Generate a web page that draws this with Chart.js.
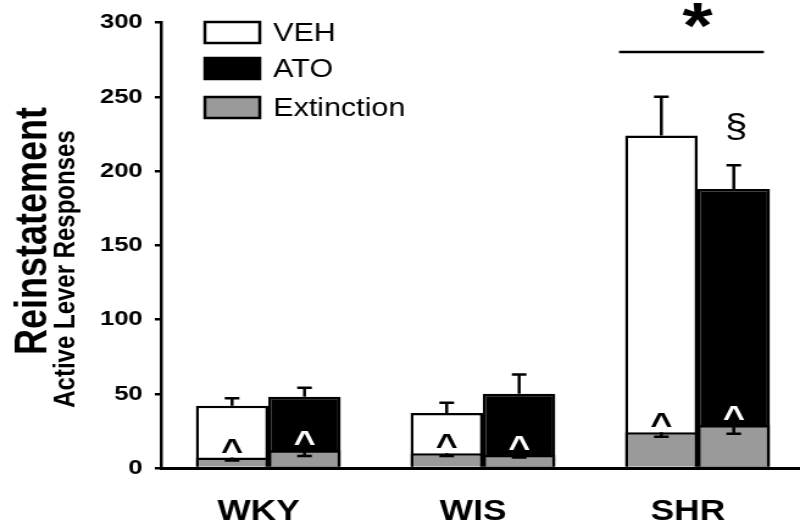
<!DOCTYPE html>
<html>
<head>
<meta charset="utf-8">
<script src="https://cdn.jsdelivr.net/npm/chart.js@4.4.1/dist/chart.umd.min.js"></script>
<style>
    body { margin: 0; background: #fff; overflow: hidden; }
    /* the source figure is stretched sideways, so draw narrow and widen */
    #wrap { width: 662px; height: 522px; transform: scaleX(1.2195); transform-origin: 0 0; }
</style>
</head>
<body>
<div id="wrap"><canvas id="reinstChart"></canvas></div>
<script>
var categories = ["WKY", "WIS", "SHR"];
var vehValues = [42, 37, 224];
var vehErrors = [5, 7, 26];
var atoValues = [48, 50, 188];
var atoErrors = [6, 13, 16];
var extVehValues = [7, 10, 24];
var extVehErrors = [2, 2, 3];
var extAtoValues = [12, 9, 29];
var extAtoErrors = [4, 2, 6];
var yTicks = [0, 50, 100, 150, 200, 250, 300];
var legendLabels = ["VEH", "ATO", "Extinction"];
var titleLines = ["Reinstatement", "Active Lever Responses"];

var FONT = "'Liberation Sans', Arial, sans-serif";
var GRAY = "#9a9a9a";

// error bars: main bars point up, extinction bars point down
var errorBars = {
    id: "errorBars",
    afterDatasetsDraw: function(chart) {
        var ctx = chart.ctx;
        var y = chart.scales.y;
        ctx.save();
        ctx.strokeStyle = "#000";
        ctx.lineWidth = 2.5;
        chart.data.datasets.forEach(function(ds, di) {
            var meta = chart.getDatasetMeta(di);
            meta.data.forEach(function(bar, i) {
                var v = ds.data[i];
                var end = y.getPixelForValue(v + ds.errDir * ds.errors[i]);
                ctx.beginPath();
                ctx.moveTo(bar.x, bar.y);
                ctx.lineTo(bar.x, end);
                ctx.moveTo(bar.x - 6, end);
                ctx.lineTo(bar.x + 6, end);
                ctx.stroke();
            });
        });
        ctx.restore();
    }
};

var marks = {
    id: "marks",
    afterDraw: function(chart) {
        var ctx = chart.ctx;
        ctx.save();

        // ^ above each extinction bar
        ctx.font = "bold 31px " + FONT;
        ctx.textAlign = "center";
        ctx.textBaseline = "alphabetic";
        [2, 3].forEach(function(di) {
            chart.getDatasetMeta(di).data.forEach(function(bar) {
                ctx.fillStyle = di == 3 ? "#fff" : "#000";
                ctx.fillText("^", bar.x, bar.y + 3);
            });
        });

        // significance over SHR
        var vehShr = chart.getDatasetMeta(0).data[2];
        var atoShr = chart.getDatasetMeta(1).data[2];
        var left = vehShr.x - vehShr.width / 2 - 5;
        var right = atoShr.x + atoShr.width / 2 - 5;
        ctx.strokeStyle = "#000";
        ctx.lineWidth = 2.5;
        ctx.beginPath();
        ctx.moveTo(left, 52);
        ctx.lineTo(right, 52);
        ctx.stroke();
        ctx.fillStyle = "#000";
        ctx.font = "bold 64px " + FONT;
        ctx.fillText("*", (vehShr.x + atoShr.x) / 2, 48);

        ctx.font = "33px " + FONT;
        ctx.fillText("\u00a7", atoShr.x + 2, 137);

        // legend inside the plot
        var fills = ["#fff", "#000", GRAY];
        var tops = [22, 58, 97];
        ctx.lineWidth = 2.5;
        ctx.textAlign = "left";
        ctx.textBaseline = "middle";
        ctx.font = "25px " + FONT;
        for (var i = 0; i < legendLabels.length; i++) {
            ctx.fillStyle = fills[i];
            ctx.fillRect(168, tops[i], 45, 21);
            ctx.strokeRect(168, tops[i], 45, 21);
            ctx.fillStyle = "#000";
            ctx.fillText(legendLabels[i], 224, tops[i] + 12);
        }

        // two-line y title, first line set larger
        ctx.textAlign = "center";
        ctx.textBaseline = "alphabetic";
        var lines = [
            { x: 37.7, y: 231, size: 36 },
            { x: 60.5, y: 269, size: 24 }
        ];
        lines.forEach(function(l, i) {
            ctx.save();
            ctx.font = "bold " + l.size + "px " + FONT;
            ctx.translate(l.x, l.y);
            ctx.rotate(-Math.PI / 2);
            ctx.fillText(titleLines[i], 0, 0);
            ctx.restore();
        });
        ctx.restore();
    }
};

var ctx = document.getElementById("reinstChart").getContext("2d");
var reinstChart = new Chart(ctx, {
    type: "bar",
    data: {
        labels: categories,
        datasets: [{
            label: "VEH",
            data: vehValues,
            errors: vehErrors,
            errDir: 1,
            stack: "veh",
            backgroundColor: "#fff",
            borderColor: "#000",
            borderWidth: 2.5,
            order: 2
        }, {
            label: "ATO",
            data: atoValues,
            errors: atoErrors,
            errDir: 1,
            stack: "ato",
            backgroundColor: "#000",
            borderColor: "#000",
            borderWidth: 2.5,
            order: 2
        }, {
            label: "Extinction",
            data: extVehValues,
            errors: extVehErrors,
            errDir: -1,
            stack: "veh",
            backgroundColor: GRAY,
            borderColor: "#000",
            borderWidth: 2.5,
            order: 1
        }, {
            label: "Extinction ATO",
            data: extAtoValues,
            errors: extAtoErrors,
            errDir: -1,
            stack: "ato",
            backgroundColor: GRAY,
            borderColor: "#000",
            borderWidth: 2.5,
            order: 1
        }]
    },
    options: {
        responsive: true,
        maintainAspectRatio: false,
        animation: false,
        layout: { padding: { top: 20, right: 2, left: 0, bottom: 0 } },
        categoryPercentage: 0.675,
        barPercentage: 1.0,
        plugins: { legend: { display: false }, tooltip: { enabled: false } },
        scales: {
            x: {
                grid: { drawOnChartArea: false, drawTicks: false },
                border: { color: "#000", width: 3 },
                ticks: { color: "#000", padding: 27, labelOffset: -8, font: { family: FONT, size: 29, weight: "bold" } },
                afterFit: function(s) { s.height = 54; }
            },
            y: {
                min: 0,
                max: 300,
                stacked: false,
                afterBuildTicks: function(s) { s.ticks = yTicks.map(function(v) { return { value: v }; }); },
                grid: { drawOnChartArea: false, color: "#000", lineWidth: 2.5, tickLength: 5 },
                border: { color: "#000", width: 2.5 },
                ticks: { color: "#000", padding: 10, font: { family: FONT, size: 21, weight: "bold" } },
                afterFit: function(s) { s.width = 132; }
            }
        }
    },
    plugins: [errorBars, marks]
});
</script>
</body>
</html>
